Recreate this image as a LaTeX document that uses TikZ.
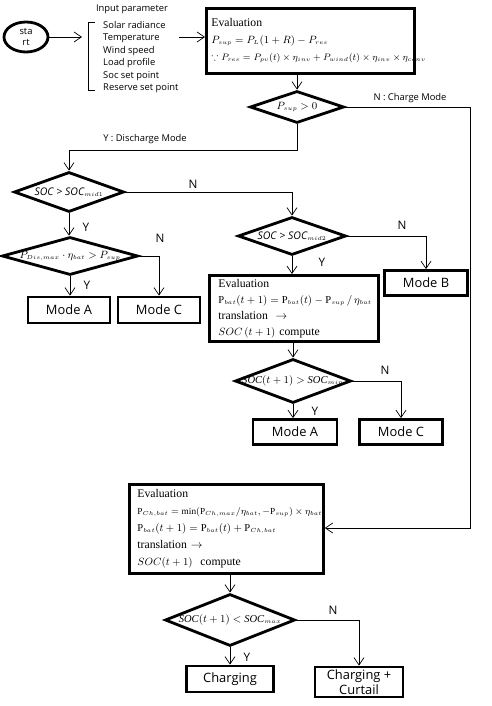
\documentclass[tikz,border=0pt]{standalone}
\usepackage{amsmath}
\usepackage{amssymb}
\usepackage{fontspec}
\setmainfont{Liberation Serif}
\setsansfont{Open Sans}
\usetikzlibrary{shapes.geometric,arrows.meta}
\newcommand{\zw}[1]{\makebox[0pt]{#1}}
\newcommand{\lw}[1]{_{\scriptscriptstyle #1}}
\newcommand{\fl}[1]{\mbox{\fontsize{9}{11}\selectfont$#1$}}
\newcommand{\fls}[1]{\mbox{\fontsize{7.9}{10}\selectfont$#1$}}

\begin{document}
\begin{tikzpicture}[x=0.3mm,y=-0.3mm,
        thickline/.style={draw,line width=2.4pt},
        dia/.style={thickline,diamond,inner sep=0pt,aspect=3,font=\fontsize{9}{11}\selectfont},
        modebox/.style={thickline,rectangle,inner sep=0pt,align=center,font=\sffamily\fontsize{11}{12}\selectfont},
        evalbox/.style={thickline,rectangle,anchor=north west,align=left,font=\rmfamily\fontsize{10}{14.5}\selectfont},
        conn/.style={draw,line width=0.6pt,-{Straight Barb[length=2.2mm,width=3mm]}},
        lbl/.style={font=\sffamily\fontsize{8}{10}\selectfont,inner sep=0pt}]
            \useasboundingbox (0,0) rectangle (491,706);

            % start and inputs
            \node[thickline,ellipse,minimum width=13.2mm,minimum height=9mm,inner sep=0pt,align=center,
                font=\sffamily\fontsize{8}{10}\selectfont] (start) at (26,37) {sta\\rt};
            \node[lbl] (intitle) at (132,9) {Input parameter};
            \node[lbl,anchor=north west,align=left,font=\sffamily\fontsize{8}{10.6}\selectfont] (inputs) at (103,21)
                {Solar radiance\\Temperature\\Wind speed\\Load profile\\Soc set point\\Reserve set point};
            \draw[line width=0.6pt] (95,22) -- (88,22) -- (88,90) -- (95,90);
            \coordinate (brk) at (82,37);

            % evaluation boxes
            \node[evalbox,text width=59.4mm,inner xsep=1.5mm,minimum height=19.5mm] (eval1) at (205,7)
                {Evaluation\\
                \fl{P\lw{sup}=P\lw{L}(1+R)-P\lw{res}}\\
                \fls{\because P\lw{res}=P\lw{pv}(t)\times\eta\lw{inv}+P\lw{wind}(t)\times\eta\lw{inv}\times\eta\lw{conv}}};
            \node[evalbox,text width=45.3mm,inner xsep=2.7mm,minimum height=19.8mm,
                font=\rmfamily\fontsize{10}{13.6}\selectfont] (eval2) at (208,274)
                {Evaluation\\
                \fl{\mathrm{P}\lw{bat}(t+1)=\mathrm{P}\lw{bat}(t)-\mathrm{P}\lw{sup}\,/\,\eta\lw{bat}}\\
                translation \ $\rightarrow$\\
                \fl{SOC\,(t+1)} compute};
            \node[evalbox,text width=53.4mm,inner xsep=2.4mm,minimum height=26.7mm] (eval3) at (128,483)
                {Evaluation\\
                \fls{\mathrm{P}\lw{Ch,bat}=\min(\mathrm{P}\lw{Ch,max}/\eta\lw{bat},-\mathrm{P}\lw{sup})\times\eta\lw{bat}}\\
                \fl{\mathrm{P}\lw{bat}(t+1)=\mathrm{P}\lw{bat}(t)+\mathrm{P}\lw{Ch,bat}}\\
                translation $\rightarrow$\\
                \fl{SOC(t+1)}\ \ compute};

            % decisions
            \node[dia,minimum width=28.2mm,minimum height=9.6mm] (d1) at (297,107) {\zw{$P\lw{sup}>0$}};
            \node[dia,minimum width=33mm,minimum height=12mm] (d2) at (69,192)
                {\zw{\sffamily\itshape SOC > SOC$\lw{mid1}$}};
            \node[dia,minimum width=40.8mm,minimum height=11.4mm] (d5) at (70,256)
                {\zw{$P\lw{Dis,max}\cdot\eta\lw{bat}>P\lw{sup}$}};
            \node[dia,minimum width=32.4mm,minimum height=11.4mm] (d3) at (292,236)
                {\zw{\sffamily\itshape SOC > SOC$\lw{mid2}$}};
            \node[dia,minimum width=34.8mm,minimum height=13.2mm] (d4) at (293,381)
                {\zw{\textit{SOC}$(t+1)>{}$\textit{SOC}$\lw{min}$}};
            \node[dia,minimum width=39mm,minimum height=15.6mm] (d6) at (230,620)
                {\zw{\textit{SOC}$(t+1)<{}$\textit{SOC}$\lw{max}$}};

            % outcomes
            \node[modebox,minimum width=24.6mm,minimum height=7.8mm] (ma1) at (69,310) {Mode A};
            \node[modebox,minimum width=24.6mm,minimum height=7.8mm] (mc1) at (159,310) {Mode C};
            \node[modebox,minimum width=24.9mm,minimum height=7.5mm] (mb) at (426,283) {Mode B};
            \node[modebox,minimum width=25.2mm,minimum height=7.5mm] (ma2) at (295,432) {Mode A};
            \node[modebox,minimum width=24.9mm,minimum height=7.5mm] (mc2) at (401,432) {Mode C};
            \node[modebox,minimum width=26.1mm,minimum height=7.8mm] (chg) at (230,679) {Charging};
            \node[modebox,minimum width=26.4mm,minimum height=9mm,font=\sffamily\fontsize{11}{12.5}\selectfont]
                (chc) at (359,682) {Charging +\\Curtail};

            % connectors
            \coordinate (dis) at (69,150);
            \coordinate (chm) at (470,528);
            \draw[conn] (start.east) -- (brk);
            \draw[conn] (inputs.east |- brk) -- (eval1.west |- brk);
            \draw[conn] (d1.north |- eval1.south) -- (d1.north);
            \draw[conn] (d1.east) -| (chm) -- (eval3.east |- chm);
            \draw[conn] (d1.south) |- (dis) -- (d2.north);
            \draw[conn] (d2.east) -| (d3.north);
            \draw[conn] (d2.south) -- (d2.south |- d5.north);
            \draw[conn] (d5.east) -| (mc1.north);
            \draw[conn] (d5.south) -- (d5.south |- ma1.north);
            \draw[conn] (d3.east) -| (mb.north);
            \draw[conn] (d3.south) -- (d3.south |- eval2.north);
            \draw[conn] (d4.north |- eval2.south) -- (d4.north);
            \draw[conn] (d4.east) -| (mc2.north);
            \draw[conn] (d4.south) -- (d4.south |- ma2.north);
            \draw[conn] (d6.north |- eval3.south) -- (d6.north);
            \draw[conn] (d6.east) -| (chc.north);
            \draw[conn] (d6.south) -- (d6.south |- chg.north);

            % branch labels
            \node[lbl] (lchg) at (410,98) {N : Charge Mode};
            \node[lbl] (ldis) at (145,139) {Y : Discharge Mode};
            \foreach \txt/\lx/\ly [count=\i] in {N/193/184, Y/86/227, N/160/238, Y/87/285, N/402/225, Y/322/262,
                    N/385/370, Y/315/411, N/333/610, Y/247/657}
                \node[lbl,font=\sffamily\fontsize{10}{12}\selectfont] (yn\i) at (\lx,\ly) {\txt};
        \end{tikzpicture}
\end{document}
